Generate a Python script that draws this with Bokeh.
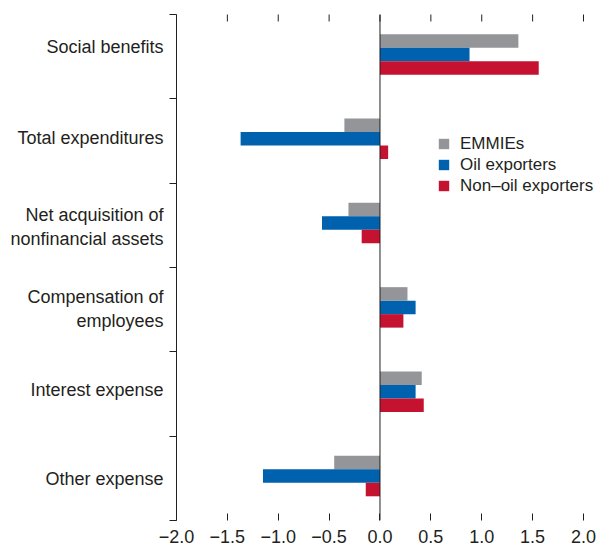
import math
from bokeh.plotting import figure
from bokeh.models import FixedTicker, LinearAxis, Span, Legend, LegendItem
from bokeh.embed import file_html
from bokeh.resources import INLINE

categories = ["Social benefits", "Total expenditures", "Net acquisition of\nnonfinancial assets",
              "Compensation of\nemployees", "Interest expense", "Other expense"]
series_names = ["EMMIEs", "Oil exporters", "Non\u2013oil exporters"]
emmies = [1.36, -0.35, -0.31, 0.27, 0.41, -0.45]
oil = [0.88, -1.37, -0.57, 0.35, 0.35, -1.15]
nonoil = [1.56, 0.08, -0.18, 0.23, 0.43, -0.14]
x_ticks = [-2.0, -1.5, -1.0, -0.5, 0.0, 0.5, 1.0, 1.5, 2.0]
x_tick_labels = ["\u22122.0", "\u22121.5", "\u22121.0", "\u22120.5", "0.0", "0.5", "1.0", "1.5", "2.0"]

colors = ["#939598", "#0061AF", "#C41230"]
FONT = "Liberation Sans"
FS = "18px"
TXT = "#231F20"

n = len(categories)
centers = [n - 0.5 - i for i in range(n)]
# vertical nudges of the category labels relative to the category centres (style)
label_nudge = [0.11, 0.03, -0.014, 0.002, 0.053, -0.002]
label_pos = [c + d for c, d in zip(centers, label_nudge)]
bar_h = 0.16
shift = 0.027
offsets = [bar_h + shift, shift, -bar_h + shift]

p = figure(width=598, height=550, x_range=(-2, 2.1376), y_range=(0, n),
           output_backend="svg", toolbar_location=None,
           x_axis_location=None, y_axis_location=None,
           min_border_left=176, min_border_right=1, min_border_top=14, min_border_bottom=30)
p.outline_line_color = None
p.xgrid.visible = False
p.ygrid.visible = False
p.background_fill_color = None
p.border_fill_color = "white"

renderers = []
for vals, col, off in zip([emmies, oil, nonoil], colors, offsets):
    r = p.hbar(y=[c + off for c in centers], left=0, right=vals, height=bar_h,
               fill_color=col, line_color=None)
    renderers.append(r)

p.add_layout(Span(location=0, dimension="height", line_color="#231F20", line_width=1))

# top ticks (inward), drawn as vertical dashes clipped by the frame
p.scatter(x=x_ticks, y=[n] * len(x_ticks), marker="dash", angle=math.pi / 2, size=14,
          line_color="#231F20", line_width=1)

# left axis
yax = LinearAxis(ticker=FixedTicker(ticks=label_pos, minor_ticks=list(range(n + 1))))
yax.major_label_overrides = {c: lab for c, lab in zip(label_pos, categories)}
yax.major_tick_line_color = None
yax.minor_tick_out = 7
yax.minor_tick_in = 0
yax.minor_tick_line_color = "#231F20"
yax.axis_line_color = "#231F20"
yax.major_label_text_font = FONT
yax.major_label_text_font_size = FS
yax.major_label_text_color = TXT
yax.major_label_standoff = 6
p.add_layout(yax, "left")

# bottom axis
xax = LinearAxis(ticker=FixedTicker(ticks=x_ticks, minor_ticks=[]))
xax.major_label_overrides = {t: lab for t, lab in zip(x_ticks, x_tick_labels)}
xax.axis_line_color = None
xax.major_tick_in = 7
xax.major_tick_out = 0
xax.major_tick_line_color = "#231F20"
xax.major_label_text_font = FONT
xax.major_label_text_font_size = FS
xax.major_label_text_color = TXT
xax.major_label_standoff = 9
p.add_layout(xax, "below")

legend = Legend(items=[LegendItem(label=nm, renderers=[r]) for nm, r in zip(series_names, renderers)],
                location=(261, 324))
legend.border_line_color = None
legend.background_fill_alpha = 0
legend.padding = 0
legend.margin = 0
legend.spacing = 0
legend.glyph_width = 13
legend.glyph_height = 13
legend.label_height = 21
legend.label_standoff = 10
legend.label_text_font = FONT
legend.label_text_font_size = "17px"
legend.label_text_color = TXT
p.add_layout(legend)

open("out.html", "w").write(file_html(p, INLINE))
